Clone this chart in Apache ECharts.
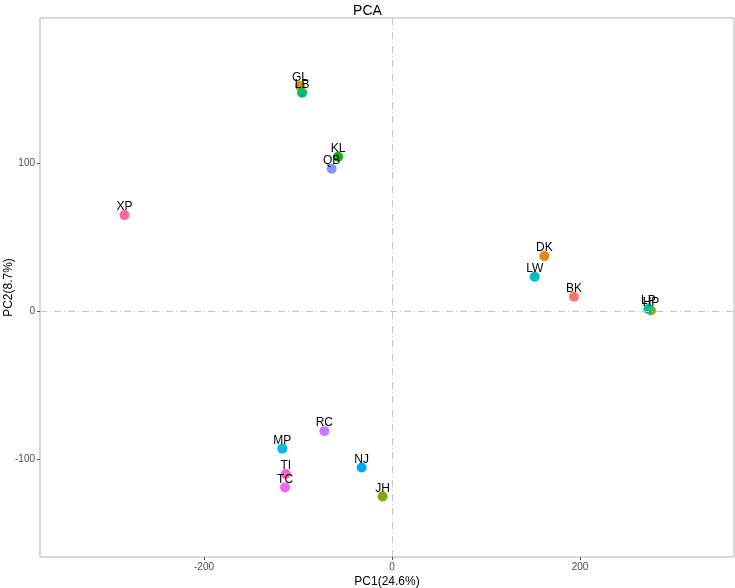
<!DOCTYPE html>
<html>
<head>
<meta charset="utf-8">
<script src="https://cdn.jsdelivr.net/npm/echarts@6/dist/echarts.min.js"></script>
<style>html,body{margin:0;padding:0;background:#fff}#c{width:735px;height:588px}</style>
</head>
<body>
<div id="c"></div>
<script>
const samples = ["BK","DK","GL","HP","JH","KL","LB","LP","LW","MP","NJ","QB","RC","TC","TI","XP"];
const pc1 = [193.6, 162, -97.9, 275.5, -10, -57.4, -95.7, 272.7, 151.8, -116.7, -32.3, -64.2, -72, -113.8, -113, -284.6];
const pc2 = [9.7, 37.2, 152, 0.5, -125.2, 104.3, 147.6, 1.5, 23.2, -92.8, -105.6, 96.2, -81, -119, -110, 64.9];
const colors = ["#F8766D","#E68613","#CD9600","#ABA300","#7CAE00","#0CB702","#00BE67","#00C19A","#00BFC4","#00B8E7","#00A9FF","#8494FF","#C77CFF","#ED68ED","#FF61CC","#FF68A1"];
const xTicks = [-200, 0, 200];
const yTicks = [-100, 0, 100];

const font = "Liberation Sans, Arial, sans-serif";
const chart = echarts.init(document.getElementById('c'));
const series = samples.map((s, i) => ({
  type: 'scatter',
  name: s,
  data: [[pc1[i], pc2[i], s]],
  symbolSize: 10,
  itemStyle: { color: colors[i], opacity: 1 },
  label: { show: true, position: 'top', distance: -3, formatter: p => p.data[2], color: '#000', fontSize: 12, fontFamily: font },
  z: 3,
  silent: true
}));
series.push({
  type: 'scatter', data: [], silent: true,
  markLine: {
    silent: true, symbol: 'none', label: { show: false },
    lineStyle: { color: '#c4c4c4', width: 1, type: [7, 3, 1, 3] },
    data: [{ xAxis: 0 }, { yAxis: 0 }]
  },
  z: 1
});
chart.setOption({
  animation: false,
  title: { text: 'PCA', left: 'center', top: -1, textStyle: { fontSize: 14, fontWeight: 'normal', color: '#000', fontFamily: font } },
  grid: { left: 40, right: 1, top: 18, bottom: 31, containLabel: false, outerBoundsMode: 'none', show: true, borderColor: '#b3b3b3', borderWidth: 1, backgroundColor: '#fff' },
  xAxis: {
    type: 'value', min: -374.5, max: 363.8,
    name: 'PC1(24.6%)', nameLocation: 'middle', nameGap: 19, nameMoveOverlap: false,
    nameTextStyle: { fontSize: 12, color: '#000', fontFamily: font },
    axisLine: { show: false, onZero: false },
    splitLine: { show: false },
    axisTick: { show: true, length: 3, lineStyle: { color: '#555' }, customValues: xTicks },
    axisLabel: { customValues: xTicks, fontSize: 10, color: '#4d4d4d', margin: 5, fontFamily: font }
  },
  yAxis: {
    type: 'value', min: -166, max: 198,
    name: 'PC2(8.7%)', nameLocation: 'middle', nameGap: 25, nameRotate: 90, nameMoveOverlap: false,
    nameTextStyle: { fontSize: 12, color: '#000', fontFamily: font },
    axisLine: { show: false, onZero: false },
    splitLine: { show: false },
    axisTick: { show: true, length: 3, lineStyle: { color: '#555' }, customValues: yTicks },
    axisLabel: { customValues: yTicks, fontSize: 10, color: '#4d4d4d', margin: 5, fontFamily: font }
  },
  series: series
});
</script>
</body>
</html>
